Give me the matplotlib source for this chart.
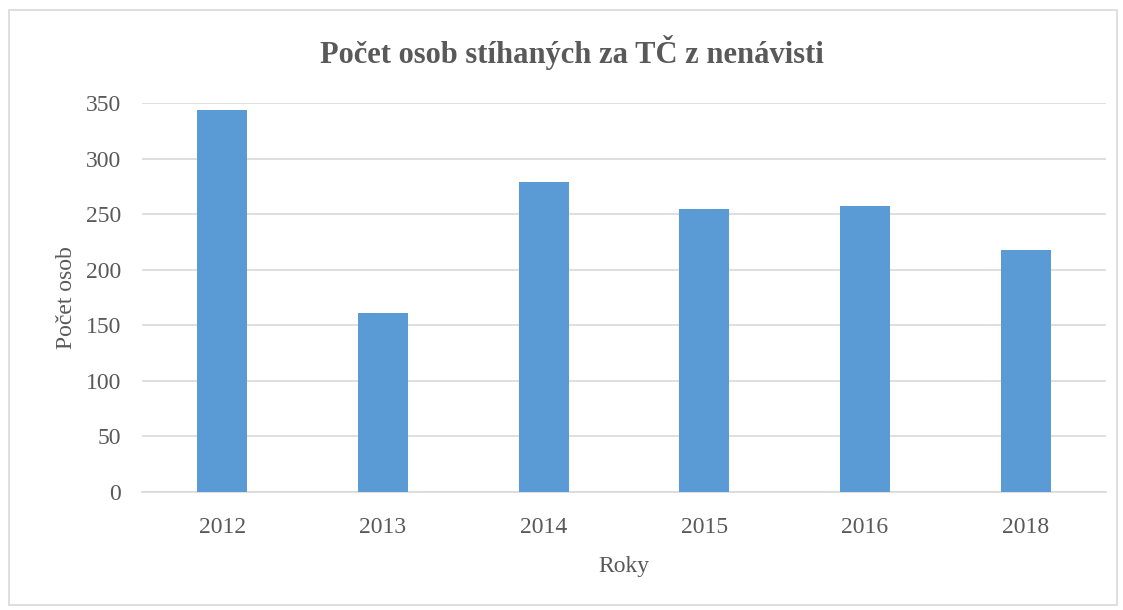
import matplotlib.pyplot as plt
from matplotlib.patches import Rectangle

# data
roky = ['2012', '2013', '2014', '2015', '2016', '2018']
pocet = [344, 161, 279, 255, 257, 218]

plt.rcParams['font.family'] = ['Liberation Serif', 'DejaVu Serif']
text_color = '#595959'

fig = plt.figure(figsize=(11.23, 6.10), dpi=100)
ax = fig.add_axes([142 / 1123, 1 - 492 / 610, (1106 - 142) / 1123, (492 - 103) / 610])

x = range(len(roky))
ax.bar(x, pocet, width=0.31, color='#5B9BD5', zorder=3)

ax.set_xlim(-0.5, len(roky) - 0.5)
ax.set_ylim(0, 350)
ax.set_yticks(range(0, 351, 50))
ax.set_xticks(list(x))
ax.set_xticklabels(roky)

ax.grid(axis='y', color='#d9d9d9', linewidth=1.2, zorder=0)
for s in ['top', 'right', 'left']:
    ax.spines[s].set_visible(False)
ax.spines['bottom'].set_color('#d9d9d9')
ax.spines['bottom'].set_linewidth(1.2)
ax.tick_params(axis='both', length=0, labelsize=17, colors=text_color)
ax.tick_params(axis='x', pad=18)
ax.tick_params(axis='y', pad=15)

ax.set_xlabel('Roky', fontsize=17, color=text_color, labelpad=13)
ax.set_ylabel('Počet osob', fontsize=17, color=text_color, labelpad=6)
fig.text(572 / 1123, 1 - 52 / 610, 'Počet osob stíhaných za TČ z nenávisti', ha='center', va='center',
         fontsize=22, fontweight='bold', color=text_color)

# rámeček kolem grafu
fig.patches.append(Rectangle((9 / 1123, 1 - 605 / 610), 1108 / 1123, 595 / 610, transform=fig.transFigure,
                             fill=False, edgecolor='#d9d9d9', linewidth=1.2))

fig.savefig('out.png', dpi=100, facecolor='white')
